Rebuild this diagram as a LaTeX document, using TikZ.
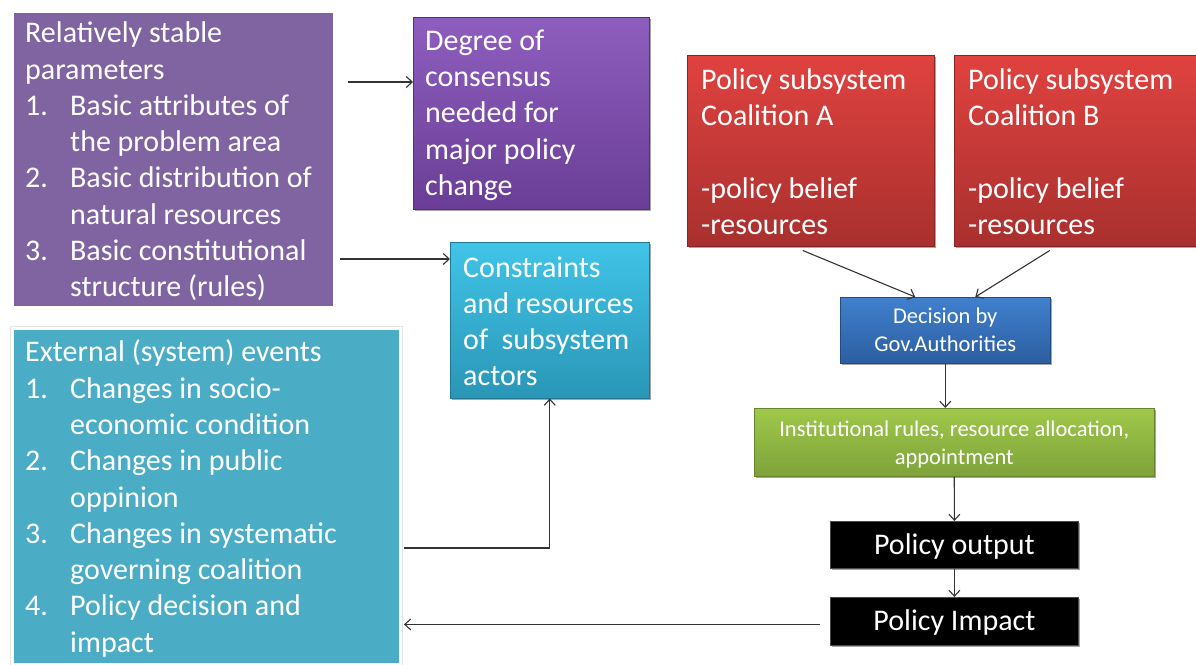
\documentclass[tikz,border=0pt]{standalone}
\usepackage{fontspec}
\setmainfont{Carlito}
\usetikzlibrary{arrows.meta,shadows,calc}
\definecolor{purpA}{RGB}{128,100,162}
\definecolor{purpT}{RGB}{142,94,190}
\definecolor{purpB}{RGB}{106,62,150}
\definecolor{cyanT}{RGB}{64,196,232}
\definecolor{cyanB}{RGB}{42,150,182}
\definecolor{extC}{RGB}{75,172,198}
\definecolor{redT}{RGB}{224,66,63}
\definecolor{redB}{RGB}{168,48,46}
\definecolor{bluT}{RGB}{64,128,206}
\definecolor{bluB}{RGB}{44,94,160}
\definecolor{grnT}{RGB}{160,200,74}
\definecolor{grnB}{RGB}{126,162,58}
\newcommand{\litem}[1]{\makebox[45pt][l]{#1}}
\newcommand{\lind}{\hspace*{45pt}}
\begin{document}
\begin{tikzpicture}[x=1pt,y=1pt,
  box/.style={rectangle, inner sep=0pt, anchor=north west},
  sh/.style={drop shadow={shadow xshift=1.5pt, shadow yshift=-2pt, opacity=0.35, fill=black}},
  framed/.style={draw=white, line width=3pt, drop shadow={shadow xshift=0pt, shadow yshift=0pt, opacity=0.25, fill=black!40, shadow scale=1.012}},
  big/.style={font=\fontsize{30}{36.3}\selectfont, text=white, align=left, inner sep=0pt, anchor=west},
  bigc/.style={font=\fontsize{30}{36}\selectfont, text=white, align=center, inner sep=0pt},
  small/.style={font=\fontsize{22.5}{28}\selectfont, text=white, align=center, inner sep=0pt},
  arr/.style={-{Straight Barb[length=6pt,width=11pt]}, line width=1.1pt, draw=black!80}
]
\useasboundingbox (0,0) rectangle (1196,-664);
\clip (0,0) rectangle (1196,-664);

% left boxes
\node[box, minimum width=322pt, minimum height=296pt, fill=purpA, framed] (p1) at (11,-10) {};
\node[big] (p1t) at ([xshift=14pt,yshift=-2pt]p1.west) {Relatively stable\\parameters\\\litem{1.}Basic attributes of\\\lind the problem area\\\litem{2.}Basic distribution of\\\lind natural resources\\\litem{3.}Basic constitutional\\\lind structure (rules)};

\node[box, minimum width=388pt, minimum height=336pt, fill=extC, framed] (ext) at (11,-327) {};
\node[big] (extt) at ([xshift=14pt,yshift=-2pt]ext.west) {External (system) events\\\litem{1.}Changes in socio-\\\lind economic condition\\\litem{2.}Changes in public\\\lind oppinion\\\litem{3.}Changes in systematic\\\lind governing coalition\\\litem{4.}Policy decision and\\\lind impact};

% middle boxes
\node[box, minimum width=236pt, minimum height=192pt, top color=purpT, bottom color=purpB, draw=purpB!80!black, line width=0.5pt, sh] (deg) at (413,-17) {};
\node[big] (degt) at ([xshift=12pt,yshift=-2pt]deg.west) {Degree of\\consensus\\needed for\\major policy\\change};

\node[box, minimum width=199pt, minimum height=156pt, top color=cyanT, bottom color=cyanB, draw=cyanB!80!black, line width=0.5pt, sh] (cons) at (450,-242) {};
\node[big] (const) at ([xshift=13pt,yshift=-1pt]cons.west) {Constraints\\and resources\\of~ subsystem\\actors};

% right boxes
\node[box, minimum width=247pt, minimum height=191pt, top color=redT, bottom color=redB, draw=redB!80!black, line width=0.5pt, sh] (coalA) at (687,-55) {};
\node[big] (coalAt) at ([xshift=14pt,yshift=-1pt]coalA.west) {Policy subsystem\\Coalition A\\\mbox{}\\-policy belief\\-resources};

\node[box, minimum width=247pt, minimum height=191pt, top color=redT, bottom color=redB, draw=redB!80!black, line width=0.5pt, sh] (coalB) at (954,-55) {};
\node[big] (coalBt) at ([xshift=14pt,yshift=-1pt]coalB.west) {Policy subsystem\\Coalition B\\\mbox{}\\-policy belief\\-resources};

\node[box, minimum width=210pt, minimum height=66pt, top color=bluT, bottom color=bluB, draw=bluB!80!black, line width=0.5pt, sh] (dec) at (840,-297) {};
\node[small] (dect) at (dec.center) {Decision by\\Gov.Authorities};

\node[box, minimum width=400pt, minimum height=68pt, top color=grnT, bottom color=grnB, draw=grnB!80!black, line width=0.5pt, sh] (ins) at (754,-408) {};
\node[small] (inst) at ([yshift=-2pt]ins.center) {Institutional rules, resource allocation,\\appointment};

\node[box, minimum width=248pt, minimum height=47pt, fill=black, draw=black!70, line width=0.8pt, sh] (out) at (830,-521) {};
\node[bigc] (outt) at ([yshift=-2pt]out.center) {Policy output};

\node[box, minimum width=248pt, minimum height=48pt, fill=black, draw=black!70, line width=0.8pt, sh] (imp) at (830,-597) {};
\node[bigc] (impt) at ([yshift=-1pt]imp.center) {Policy Impact};

% connectors
\draw[arr] ([shift={(12pt,-72pt)}]p1.north east) coordinate (s1) -- (s1 -| deg.west);
\draw[arr] ([shift={(4pt,-249pt)}]p1.north east) coordinate (s2) -- (s2 -| cons.west);
\draw[arr] ([shift={(2pt,-221pt)}]ext.north east) coordinate (s3) -| (cons.south);
\draw[arr] ([shift={(-8pt,-4pt)}]coalA.south) -- ([xshift=-30pt]dec.north);
\draw[arr] ([shift={(-28pt,-4pt)}]coalB.south) -- ([xshift=30pt]dec.north);
\draw[arr] (dec.south) -- (dec.south |- ins.north);
\draw[arr] (ins.south) -- (out.north);
\draw[arr] (out.south) -- (imp.north);
\draw[arr, shorten >=2pt] ([shift={(-10pt,-3pt)}]imp.west) coordinate (s9) -- (s9 -| ext.east);
\end{tikzpicture}
\end{document}
